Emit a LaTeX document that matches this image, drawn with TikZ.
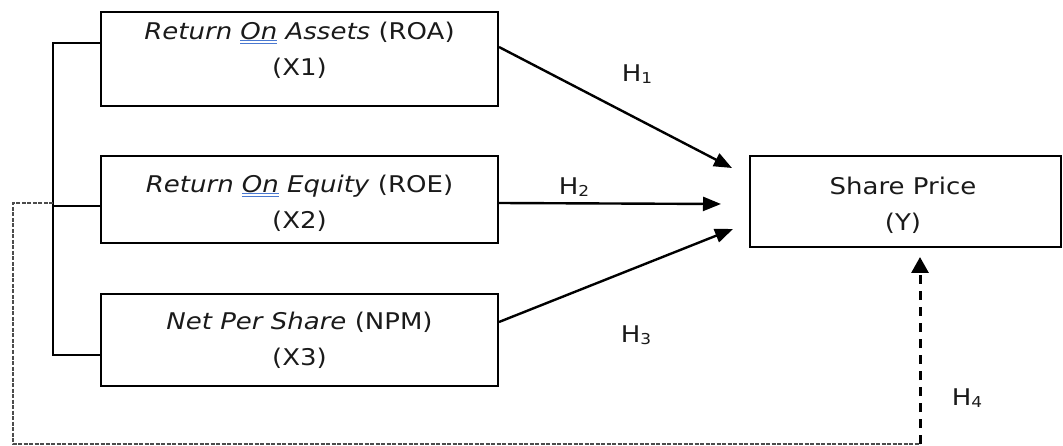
\documentclass[tikz,border=0pt]{standalone}
\usepackage{fontspec}
\setmainfont{DejaVu Sans}[FakeStretch=1.13]
\usetikzlibrary{arrows.meta}
\definecolor{ulblue}{HTML}{4A78D0}
\definecolor{inkc}{HTML}{1A1A1A}
\newcommand\gramul[1]{\setbox0\hbox{#1}\rlap{\color{ulblue}\rule[-2.2pt]{\wd0}{1pt}}\rlap{\color{ulblue}\rule[-5pt]{\wd0}{1pt}}\box0\relax}
\newcommand\hsub[1]{H\raisebox{-1.5pt}{\fontsize{15}{15}\selectfont #1}}
\tikzset{
  varbox/.style={draw=black, line width=2pt, inner sep=0pt},
  txt/.style={align=center, font=\fontsize{23}{36}\selectfont, text=inkc},
  hl/.style={font=\fontsize{23}{26}\selectfont, text=inkc},
  arr/.style={line width=2.4pt, -{Triangle[length=18pt,width=14pt]}},
  brk/.style={line width=1.6pt, line cap=rect},
  greydash/.style={draw=black!70, line width=1.5pt, dash pattern=on 4pt off 1.5pt},
  thickdash/.style={line width=3pt, dash pattern=on 9pt off 7pt, -{Triangle[length=16pt,width=17pt]}}
}
\begin{document}
\begin{tikzpicture}[x=1pt,y=-1pt]
\useasboundingbox (0,0) rectangle (1063,446);
% boxes
\node[varbox, minimum width=397pt, minimum height=94pt] (b1) at (299.5,59) {};
\node[varbox, minimum width=397pt, minimum height=87pt] (b2) at (299.5,199.5) {};
\node[varbox, minimum width=397pt, minimum height=92pt] (b3) at (299.5,340) {};
\node[varbox, minimum width=311pt, minimum height=91pt] (by) at (905.5,201.5) {};
% texts
\node[txt] (t1) at (299.5,50) {\textit{Return \gramul{On} Assets} (ROA)\\(X1)};
\node[txt] (t2) at (299.5,203) {\textit{Return \gramul{On} Equity} (ROE)\\(X2)};
\node[txt] (t3) at (299.5,340) {\textit{Net Per Share} (NPM)\\(X3)};
\node[txt] (ty) at (903,205) {Share Price\\(Y)};
% hypothesis labels
\node[hl] (h1) at (637,74) {\hsub{1}};
\node[hl] (h2) at (574,187) {\hsub{2}};
\node[hl] (h3) at (636,335) {\hsub{3}};
\node[hl] (h4) at (967,398) {\hsub{4}};
% arrow end points
\coordinate (e1) at (732,168);
\coordinate (e2) at (721,204);
\coordinate (e3) at (733,229);
\draw[arr] ([yshift=12pt]b1.east) -- (e1);
\draw[arr] ([yshift=-3.5pt]b2.east) -- (e2);
\draw[arr] ([yshift=18pt]b3.east) -- (e3);
% bracket
\coordinate (bt) at (53,43);
\coordinate (bm) at (53,206);
\coordinate (bb) at (53,355);
\draw[brk] (b1.west |- bt) -- (bt) -- (bb) -- (b3.west |- bb);
\draw[brk] (b2.west |- bm) -- (bm);
% dashed moderation path
\coordinate (ds) at (53,203);
\coordinate (dl) at (13,203);
\coordinate (dc) at (13,444);
\coordinate (dr) at (920,444);
\coordinate (h4end) at (920,257);
\draw[greydash] (ds) -- (dl) -- (dc) -- (dr);
\draw[thickdash] (dr) -- (h4end);
\end{tikzpicture}
\end{document}
